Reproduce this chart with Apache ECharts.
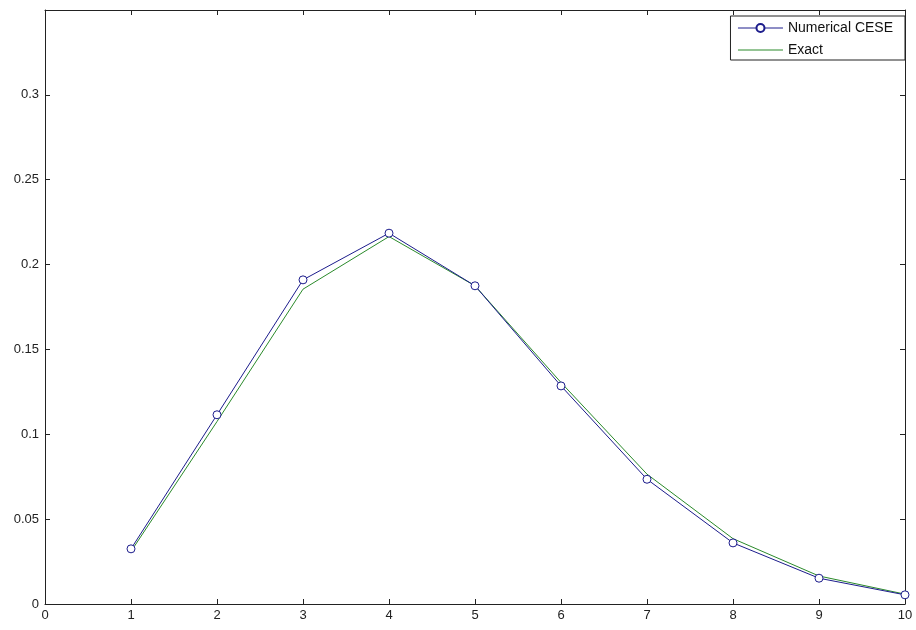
<!DOCTYPE html>
<html><head><meta charset="utf-8">
<script src="https://cdn.jsdelivr.net/npm/echarts@6/dist/echarts.min.js"></script>
<style>html,body{margin:0;padding:0;background:#fff}#c{width:916px;height:630px}</style>
</head><body><div id="c"></div>
<script>
const xValues = [1,2,3,4,5,6,7,8,9,10];
const cese = [0.0325,0.1115,0.191,0.2185,0.1875,0.1285,0.0735,0.036,0.0152,0.0054];
const exact = [0.031,0.1075,0.1855,0.2165,0.1875,0.1305,0.0765,0.0385,0.0165,0.0058];
const seriesNames = ['Numerical CESE','Exact'];
const yTicks = [0,0.05,0.1,0.15,0.2,0.25,0.3];

const chart = echarts.init(document.getElementById('c'));
const axisLine = {show:true,onZero:false,lineStyle:{color:'#222',width:1}};
const tick = {show:true,inside:true,length:5,lineStyle:{color:'#222'}};
const lbl = {color:'#222',fontFamily:'Liberation Sans, Arial',fontSize:13};
chart.setOption({
  animation:false,
  backgroundColor:'#fff',
  grid:{left:45,right:11,top:10,bottom:26},
  legend:{
    right:11, top:16, orient:'vertical', itemGap:8, itemWidth:45, itemHeight:10,
    padding:[5,12,3,7], borderColor:'#222', borderWidth:1, backgroundColor:'#fff',
    lineStyle:{width:1},
    textStyle:{color:'#111',fontFamily:'Liberation Sans, Arial',fontSize:14,lineHeight:14},
    data:[{name:seriesNames[0]},{name:seriesNames[1],itemStyle:{opacity:0}}]
  },
  xAxis:[
    {type:'value',min:0,max:10,interval:1,axisLine,axisTick:tick,splitLine:{show:false},
     axisLabel:Object.assign({margin:5},lbl)},
    {type:'value',position:'top',min:0,max:10,interval:1,axisLine,axisTick:tick,splitLine:{show:false},axisLabel:{show:false}}
  ],
  yAxis:[
    {type:'value',min:0,max:0.35,interval:0.05,axisLine,axisTick:tick,splitLine:{show:false},
     axisLabel:Object.assign({margin:6,formatter:v=>yTicks.some(t=>Math.abs(t-v)<1e-9)?String(+v.toFixed(2)):''},lbl)},
    {type:'value',position:'right',min:0,max:0.35,interval:0.05,axisLine,axisTick:tick,splitLine:{show:false},axisLabel:{show:false}}
  ],
  series:[
    {name:seriesNames[0],type:'line',data:xValues.map((x,i)=>[x,cese[i]]),
     symbol:'circle',symbolSize:8,showSymbol:true,
     itemStyle:{color:'#fff',borderColor:'#1c1c8c',borderWidth:1},
     lineStyle:{color:'#1c1c8c',width:1},z:3},
    {name:seriesNames[1],type:'line',data:xValues.map((x,i)=>[x,exact[i]]),
     symbol:'none',itemStyle:{color:'#2a8a2a'},lineStyle:{color:'#2a8a2a',width:1},z:2}
  ]
});
</script></body></html>
